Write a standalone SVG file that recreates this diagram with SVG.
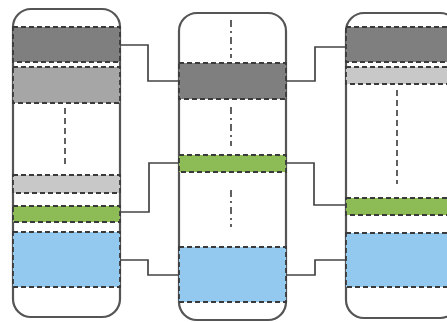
<svg xmlns="http://www.w3.org/2000/svg" width="447" height="322" viewBox="0 0 447 322">
<style>
.col{fill:#fff;stroke:#555;stroke-width:2.2}
.band{stroke:#3a3a3a;stroke-width:1.8;stroke-dasharray:5,3}
.dk{fill:#7f7f7f}.md{fill:#a6a6a6}.lt{fill:#c8c8c8}.gr{fill:#8dbb55}.bl{fill:#93c9ee}
.axis{fill:none;stroke:#3a3a3a;stroke-width:1.6;stroke-dasharray:6,4}
.axis2{fill:none;stroke:#3a3a3a;stroke-width:1.6;stroke-dasharray:7,4,2,4}
.conn{fill:none;stroke:#444;stroke-width:1.7}
</style>
<rect width="447" height="322" fill="#fff"/>
<g id="column-left">
<rect class="col" x="13" y="9" width="107" height="308" rx="18"/>
<rect class="band dk" x="13" y="27" width="107" height="35"/>
<rect class="band md" x="13" y="67" width="107" height="36"/>
<line class="axis" x1="65" y1="108" x2="65" y2="168"/>
<rect class="band lt" x="13" y="175" width="107" height="18"/>
<rect class="band gr" x="13" y="206" width="107" height="16"/>
<rect class="band bl" x="13" y="232" width="107" height="55"/>
</g>
<g id="column-middle">
<rect class="col" x="179" y="13" width="107" height="307" rx="18"/>
<line class="axis2" x1="231" y1="20" x2="231" y2="58"/>
<rect class="band dk" x="179" y="63" width="107" height="36"/>
<line class="axis2" x1="231" y1="107" x2="231" y2="146"/>
<rect class="band gr" x="179" y="155" width="107" height="17"/>
<line class="axis2" x1="231" y1="190" x2="231" y2="227"/>
<rect class="band bl" x="179" y="247" width="107" height="55"/>
</g>
<g id="column-right">
<rect class="col" x="346" y="13" width="112" height="305" rx="18"/>
<rect class="band dk" x="346" y="27" width="112" height="35"/>
<rect class="band lt" x="346" y="67" width="112" height="17"/>
<line class="axis" x1="397" y1="90" x2="397" y2="184"/>
<rect class="band gr" x="346" y="198" width="112" height="17"/>
<rect class="band bl" x="346" y="233" width="112" height="54"/>
</g>
<g id="connectors">
<path class="conn" d="M120,45 H148 V81 H179"/>
<path class="conn" d="M120,212 H149 V163 H179"/>
<path class="conn" d="M120,260 H148 V275 H179"/>
<path class="conn" d="M286,81 H315 V47 H346"/>
<path class="conn" d="M286,163 H314 V205 H346"/>
<path class="conn" d="M286,275 H315 V260 H346"/>
</g>
</svg>
